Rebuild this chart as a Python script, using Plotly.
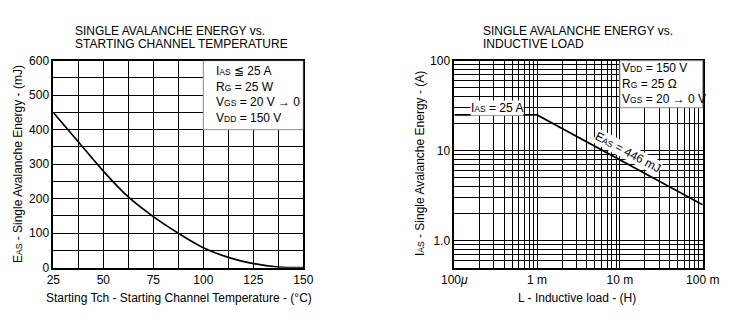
import plotly.graph_objects as go

# ---------------- data ----------------
temp_c = [25, 37.5, 50, 62.5, 75, 87.5, 100, 112.5, 125, 137.5, 150]
eas_mj = [450, 365, 280, 205, 148, 100, 58, 30, 12, 2, 0]

ind_h = [1e-4, 1e-3, 1e-1]
ias_a = [25, 25, 2.5]

left_xticks = [25, 50, 75, 100, 125, 150]
left_yticks = [0, 100, 200, 300, 400, 500, 600]
right_xtickvals = [1e-4, 1e-3, 1e-2, 1e-1]
right_xticktext = ["100<i>μ</i>", "1 m", "10 m", "100 m"]
right_ytickvals = [1, 10, 100]
right_yticktext = ["1.0", "10", "100"]

W, H = 738, 325
FONT = "Liberation Sans, Arial, sans-serif"
FS = 12

def px(x):
    return x / W

def py(y):
    return 1 - y / H

def sm(t):
    return "<span style='font-size:8.5px'>" + t + "</span>"

# minor gridline positions for log axes (1..9 per decade)
xminor = [m * 10.0 ** e for e in range(-4, -1) for m in range(2, 10)]
yminor = [m * 10.0 ** e for e in range(-1, 2) for m in range(2, 10) if not (e == -1 and m < 5)]

fig = go.Figure()
fig.add_trace(go.Scatter(x=temp_c, y=eas_mj, mode="lines",
                         line=dict(color="black", width=1.7, shape="spline", smoothing=0.8),
                         xaxis="x", yaxis="y", showlegend=False, hoverinfo="skip"))
fig.add_trace(go.Scatter(x=ind_h, y=ias_a, mode="lines",
                         line=dict(color="black", width=1.8),
                         xaxis="x2", yaxis="y2", showlegend=False, hoverinfo="skip"))

ydom = [1 - 267.7 / H, 1 - 60.7 / H]
axcommon = dict(showline=True, mirror=True, linecolor="black", linewidth=1.6,
                showgrid=True, gridcolor="black", gridwidth=1, zeroline=False,
                automargin=False, ticks="", ticklabelstandoff=0,
                tickfont=dict(family=FONT, size=FS, color="black"))

fig.update_layout(
    width=W, height=H, margin=dict(l=0, r=0, t=0, b=0),
    paper_bgcolor="white", plot_bgcolor="white",
    font=dict(family=FONT, size=FS, color="black"),
    xaxis=dict(domain=[px(53.3), px(303.3)], range=[25, 150], tickmode="array",
               tickvals=left_xticks, anchor="y",
               minor=dict(dtick=12.5, tick0=25, showgrid=True, gridcolor="black", gridwidth=1),
               **axcommon),
    yaxis=dict(domain=ydom, range=[0, 600], tickmode="array", tickvals=left_yticks,
               anchor="x",
               minor=dict(dtick=50, tick0=0, showgrid=True, gridcolor="black", gridwidth=1),
               **axcommon),
    xaxis2=dict(domain=[px(454.3), px(702.7)], type="log", range=[-4, -1],
                tickmode="array", tickvals=right_xtickvals, ticktext=right_xticktext,
                anchor="y2",
                minor=dict(tickmode="array", tickvals=xminor, showgrid=True,
                           gridcolor="black", gridwidth=1),
                **axcommon),
    yaxis2=dict(domain=ydom, type="log", range=[-0.301, 2],
                tickmode="array", tickvals=right_ytickvals, ticktext=right_yticktext,
                anchor="x2",
                minor=dict(tickmode="array", tickvals=yminor, showgrid=True,
                           gridcolor="black", gridwidth=1),
                **axcommon),
)

# condition boxes
fig.add_shape(type="rect", xref="x", yref="y", x0=100, x1=150, y0=400, y1=600,
              fillcolor="white", line=dict(color="#999999", width=1), layer="above")
fig.add_shape(type="rect", xref="x2 domain", yref="y2 domain", x0=2 / 3, x1=1,
              y0=(1.477 + 0.301) / 2.301, y1=1,
              fillcolor="white", line=dict(color="#999999", width=1), layer="above")

def ann(text, x, y, **kw):
    d = dict(text=text, x=x, y=y, xref="paper", yref="paper", showarrow=False,
             font=dict(family=FONT, size=FS, color="black"))
    d.update(kw)
    fig.add_annotation(**d)

# titles
ann("SINGLE AVALANCHE ENERGY vs.", px(73), py(31), xanchor="left", yanchor="middle")
ann("STARTING CHANNEL TEMPERATURE", px(73), py(44), xanchor="left", yanchor="middle")
ann("SINGLE AVALANCHE ENERGY vs.", px(481), py(31), xanchor="left", yanchor="middle")
ann("INDUCTIVE LOAD", px(481), py(44), xanchor="left", yanchor="middle")

# condition text
ann("I" + sm("AS") + " ≦ 25 A<br>R" + sm("G") + " = 25 W<br>V" + sm("GS") +
    " = 20 V → 0<br>V" + sm("DD") + " = 150 V",
    px(214), py(94.5), xanchor="left", yanchor="middle", align="left")
ann("V" + sm("DD") + " = 150 V<br>R" + sm("G") + " = 25 Ω<br>V" + sm("GS") + " = 20 → 0 V",
    px(619.5), py(83.5), xanchor="left", yanchor="middle", align="left")

# curve labels
ann("I" + sm("AS") + " = 25 A", px(496.7), py(107.7), xanchor="center", yanchor="middle",
    bgcolor="white", borderpad=0)
ann("E" + sm("AS") + " = 446 mJ", px(627.5), py(151.7), xanchor="center", yanchor="middle",
    textangle=28, bgcolor="white", borderpad=0)

# axis titles
ann("Starting Tch - Starting Channel Temperature - (°C)", px(178.5), py(297.5),
    xanchor="center", yanchor="middle")
ann("L - Inductive load - (H)", px(577), py(297.5), xanchor="center", yanchor="middle")
ann("E" + sm("AS") + " - Single Avalanche Energy - (mJ)", px(18), py(164),
    xanchor="center", yanchor="middle", textangle=-90)
ann("I" + sm("AS") + " - Single Avalanche Energy - (A)", px(420), py(164),
    xanchor="center", yanchor="middle", textangle=-90)

fig.write_html("out.html")
